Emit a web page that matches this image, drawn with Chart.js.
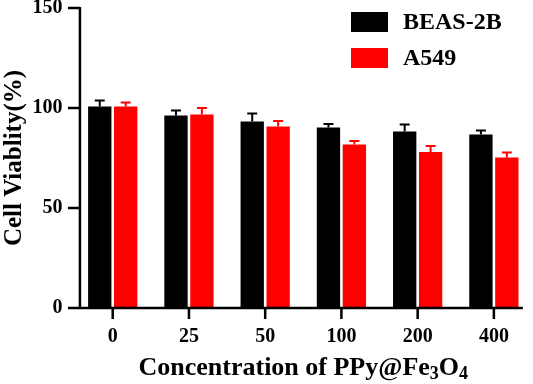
<!DOCTYPE html>
<html>
<head>
<meta charset="utf-8">
<script src="https://cdn.jsdelivr.net/npm/chart.js@4.4.1/dist/chart.umd.min.js"></script>
<style>
  body { margin: 0; background: #fff; }
  #wrap { width: 533px; height: 384px; position: relative; }
</style>
</head>
<body>
<div id="wrap"><canvas id="barChart"></canvas></div>
<script>
// du lieu doc tu hinh
var concentrations = ['0', '25', '50', '100', '200', '400'];
var beasValues = [100.7, 96.3, 93.2, 90.3, 88.3, 86.7];
var beasErrors = [3.0, 2.4, 4.1, 1.7, 3.4, 2.1];
var a549Values = [100.7, 96.7, 90.8, 81.8, 78.0, 75.3];
var a549Errors = [2.1, 3.3, 2.7, 1.7, 3.0, 2.4];
var yTicks = [0, 50, 100, 150];

var fontFamily = "'Liberation Serif', 'Times New Roman', serif";

// ve error bar (chi nua tren)
var errorBarPlugin = {
    id: 'errorBars',
    afterDatasetsDraw: function (chart) {
        var ctx = chart.ctx;
        var yScale = chart.scales.y;
        chart.data.datasets.forEach(function (ds, i) {
            var meta = chart.getDatasetMeta(i);
            ctx.save();
            ctx.strokeStyle = ds.backgroundColor;
            ctx.lineWidth = 2;
            meta.data.forEach(function (bar, j) {
                var top = yScale.getPixelForValue(ds.data[j] + ds.errors[j]);
                ctx.beginPath();
                ctx.moveTo(bar.x, bar.y);
                ctx.lineTo(bar.x, top);
                ctx.moveTo(bar.x - 5, top);
                ctx.lineTo(bar.x + 5, top);
                ctx.stroke();
            });
            ctx.restore();
        });
    }
};

// truc, legend va tieu de truc x
var axesPlugin = {
    id: 'axesDraw',
    afterDraw: function (chart) {
        var ctx = chart.ctx;
        var x = chart.scales.x, y = chart.scales.y;
        var left = x.getPixelForValue(-0.43);
        var right = x.getPixelForValue(5.38);
        var y0 = y.getPixelForValue(0);
        var yTop = y.getPixelForValue(150);
        ctx.save();
        ctx.strokeStyle = '#000';
        ctx.lineWidth = 2.5;
        ctx.beginPath();
        ctx.moveTo(left, yTop - 1);
        ctx.lineTo(left, y0);
        ctx.lineTo(right, y0);
        yTicks.forEach(function (v) {
            var py = y.getPixelForValue(v);
            ctx.moveTo(left - 12, py);
            ctx.lineTo(left, py);
        });
        concentrations.forEach(function (c, i) {
            var px = x.getPixelForValue(i);
            ctx.moveTo(px, y0);
            ctx.lineTo(px, y0 + 11);
        });
        ctx.stroke();

        // legend
        ctx.textBaseline = 'middle';
        ctx.font = 'bold 24px ' + fontFamily;
        chart.data.datasets.forEach(function (ds, i) {
            var by = 12 + i * 36;
            ctx.fillStyle = ds.backgroundColor;
            ctx.fillRect(351, by, 37, 20);
            ctx.fillStyle = '#000';
            ctx.fillText(ds.label, 403, by + 11);
        });

        // tieu de truc x voi chi so duoi
        var parts = [
            { t: 'Concentration of PPy@Fe', sub: false },
            { t: '3', sub: true },
            { t: 'O', sub: false },
            { t: '4', sub: true }
        ];
        var bigFont = 'bold 26px ' + fontFamily;
        var smallFont = 'bold 18px ' + fontFamily;
        var total = 0;
        parts.forEach(function (p) {
            ctx.font = p.sub ? smallFont : bigFont;
            p.w = ctx.measureText(p.t).width;
            total += p.w;
        });
        var cx = (chart.chartArea.left + chart.chartArea.right) / 2;
        var tx = cx - total / 2;
        var base = 375;
        ctx.textBaseline = 'alphabetic';
        ctx.fillStyle = '#000';
        parts.forEach(function (p) {
            ctx.font = p.sub ? smallFont : bigFont;
            ctx.fillText(p.t, tx, p.sub ? base + 4 : base);
            tx += p.w;
        });
        ctx.restore();
    }
};

function noPadding(scale) {
    scale.paddingTop = 0;
    scale.paddingBottom = 0;
    scale.paddingLeft = 0;
    scale.paddingRight = 0;
}

var ctx = document.getElementById('barChart').getContext('2d');
var currentBarChart = new Chart(ctx, {
    type: 'bar',
    data: {
        labels: concentrations,
        datasets: [{
            label: 'BEAS-2B',
            data: beasValues,
            errors: beasErrors,
            backgroundColor: '#000000',
            borderWidth: 0
        }, {
            label: 'A549',
            data: a549Values,
            errors: a549Errors,
            backgroundColor: '#ff0000',
            borderWidth: 0
        }]
    },
    options: {
        responsive: true,
        maintainAspectRatio: false,
        animation: false,
        layout: { padding: { top: 8, right: 1, left: 0, bottom: 0 } },
        categoryPercentage: 0.68,
        barPercentage: 0.9,
        plugins: {
            legend: { display: false },
            tooltip: { enabled: false }
        },
        scales: {
            x: {
                grid: { display: false, drawTicks: false },
                border: { display: false },
                ticks: {
                    color: '#000',
                    padding: 21,
                    font: { family: fontFamily, size: 20, weight: 'bold', lineHeight: 0.8 }
                },
                afterFit: function (scale) { scale.height = 76; noPadding(scale); }
            },
            y: {
                min: 0,
                max: 150,
                grid: { display: false, drawTicks: false },
                border: { display: false },
                ticks: {
                    color: '#000',
                    stepSize: 50,
                    padding: 12,
                    font: { family: fontFamily, size: 20, weight: 'bold', lineHeight: 0.8 }
                },
                title: {
                    display: true,
                    text: 'Cell Viablity(%)',
                    color: '#000',
                    padding: 0,
                    font: { family: fontFamily, size: 25, weight: 'bold' }
                },
                afterFit: function (scale) { scale.width = 74.6; noPadding(scale); }
            }
        }
    },
    plugins: [errorBarPlugin, axesPlugin]
});
</script>
</body>
</html>
